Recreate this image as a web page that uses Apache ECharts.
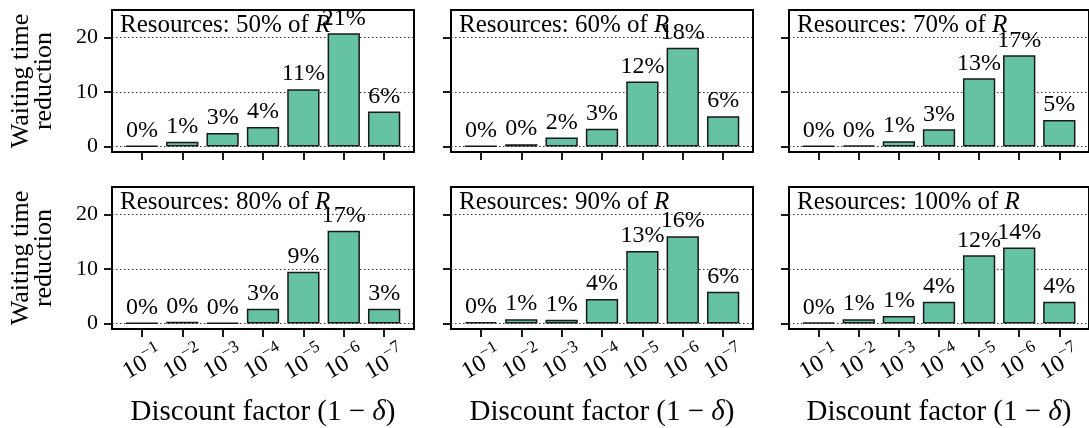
<!DOCTYPE html>
<html><head><meta charset="utf-8">
<script src="https://cdn.jsdelivr.net/npm/echarts@6/dist/echarts.min.js"></script>
<style>html,body{margin:0;padding:0;background:#fff}#c{width:1089px;height:428px}</style>
</head><body><div id="c"></div>
<script>
// ---- data ----
const xTickExponents = ['\u22121','\u22122','\u22123','\u22124','\u22125','\u22126','\u22127'];
const xPositions = [0,1,2,3,4,5,6];
const resources = [50, 60, 70, 80, 90, 100];
const reduction50  = [0.10, 0.86, 2.47, 3.58, 10.5, 20.74, 6.42];
const reduction60  = [0.10, 0.43, 1.67, 3.27, 11.9, 18.1, 5.56];
const reduction70  = [0.10, 0.20, 0.99, 3.15, 12.5, 16.7, 4.88];
const reduction80  = [0.10, 0.35, 0.10, 2.70, 9.5, 17.0, 2.70];
const reduction90  = [0.25, 0.80, 0.68, 4.50, 13.3, 16.0, 5.80];
const reduction100 = [0.19, 0.80, 1.36, 4.00, 12.5, 13.9, 4.00];
const pct50  = [0, 1, 3, 4, 11, 21, 6];
const pct60  = [0, 0, 2, 3, 12, 18, 6];
const pct70  = [0, 0, 1, 3, 13, 17, 5];
const pct80  = [0, 0, 0, 3, 9, 17, 3];
const pct90  = [0, 1, 1, 4, 13, 16, 6];
const pct100 = [0, 1, 1, 4, 12, 14, 4];
const yTicks = [0, 10, 20];
const yLabel = 'Waiting time\nreduction';
const xLabelMain = 'Discount factor (1 \u2212 ';
const xLabelSym = '\u03b4';

const reductions = [reduction50, reduction60, reduction70, reduction80, reduction90, reduction100];
const pcts = [pct50, pct60, pct70, pct80, pct90, pct100];

// ---- layout ----
const FONT = '"Liberation Serif", "DejaVu Serif", serif';
const gridLefts = [112, 451, 789];
const gridTops = [10, 187];
const GW = 302, GH = 142;
const xMin = -0.74, xMax = 6.74;
const barW = 0.8 * GW / (xMax - xMin);
const evenPos = xPositions.filter(p => p % 2 === 0);
const oddPos = xPositions.filter(p => p % 2 === 1);

function tickLabelCfg(vals) {
  return {
    show: true, customValues: vals, rotate: 30, align: 'center', verticalAlign: 'middle', margin: 32,
    showMinLabel: true, showMaxLabel: true,
    formatter: v => '{b|10}{s|' + xTickExponents[Math.round(v)] + '}',
    rich: {
      b: {fontFamily: FONT, fontSize: 24, color: '#000', lineHeight: 29, verticalAlign: 'bottom'},
      s: {fontFamily: FONT, fontSize: 17, color: '#000', lineHeight: 29, verticalAlign: 'top'}
    }
  };
}

const grids = [], xAxes = [], yAxes = [], series = [], graphics = [], extraX = [];
for (let i = 0; i < 6; i++) {
  const r = Math.floor(i / 3), c = i % 3;
  grids.push({left: gridLefts[c], top: gridTops[r], width: GW, height: GH,
    show: true, borderColor: '#000', borderWidth: 2, backgroundColor: 'transparent', containLabel: false});
  const baseLabel = r === 1 ? tickLabelCfg(evenPos) : {show: false};
  xAxes.push({
    type: 'value', gridIndex: i, min: xMin, max: xMax, position: 'bottom',
    axisLine: {show: false, onZero: false},
    axisTick: {show: true, customValues: xPositions, length: 8, lineStyle: {color: '#000', width: 1.8}},
    splitLine: {show: false},
    axisLabel: baseLabel,
    name: r === 1 ? '{m|' + xLabelMain + '}{it|' + xLabelSym + '}{m|)}' : '',
    nameLocation: 'middle', nameGap: 68,
    nameTextStyle: {
      rich: {
        m: {fontFamily: FONT, fontSize: 29, color: '#000', lineHeight: 30},
        it: {fontFamily: FONT, fontSize: 29, fontStyle: 'italic', color: '#000', lineHeight: 30}
      }
    }
  });
  if (r === 1) {
    extraX.push({
      type: 'value', gridIndex: i, min: xMin, max: xMax, position: 'bottom',
      axisLine: {show: false, onZero: false},
      axisTick: {show: false, customValues: oddPos},
      splitLine: {show: false},
      axisLabel: tickLabelCfg(oddPos)
    });
  }
  yAxes.push({
    type: 'value', gridIndex: i, min: -1, max: 25, position: 'left',
    axisLine: {show: false, onZero: false},
    axisTick: {show: true, customValues: yTicks, length: 8, lineStyle: {color: '#000', width: 1.8}},
    axisLabel: {show: c === 0, customValues: yTicks, margin: 14, fontFamily: FONT, fontSize: 22, color: '#000'},
    splitLine: {show: true, lineStyle: {color: '#333', width: 1, type: [1.5, 2.5]}},
    name: c === 0 ? yLabel : '',
    nameLocation: 'middle', nameGap: 56,
    nameTextStyle: {fontFamily: FONT, fontSize: 26, color: '#000', lineHeight: 23}
  });
  const pc = pcts[i];
  series.push({
    type: 'bar', xAxisIndex: i, yAxisIndex: i,
    data: reductions[i].map((v, j) => [xPositions[j], v]),
    barWidth: barW,
    itemStyle: {color: '#66c2a5', borderColor: '#1a1a1a', borderWidth: 1.5},
    label: {show: true, position: 'top', distance: 3,
      formatter: p => pc[p.dataIndex] + '%',
      fontFamily: FONT, fontSize: 24, color: '#000'},
    z: 3
  });
  graphics.push({
    type: 'text', left: gridLefts[c] + 8, top: gridTops[r] + 3, z: 10,
    style: {
      text: '{m|Resources: ' + resources[i] + '% of }{it|R}',
      rich: {
        m: {fontFamily: FONT, fontSize: 25, fill: '#000'},
        it: {fontFamily: FONT, fontSize: 25, fontStyle: 'italic', fill: '#000'}
      }
    }
  });
}

const chart = echarts.init(document.getElementById('c'), null, {renderer: 'canvas'});
chart.setOption({
  animation: false,
  backgroundColor: '#fff',
  grid: grids, xAxis: xAxes.concat(extraX), yAxis: yAxes, series: series,
  graphic: graphics
});
</script>
</body></html>
